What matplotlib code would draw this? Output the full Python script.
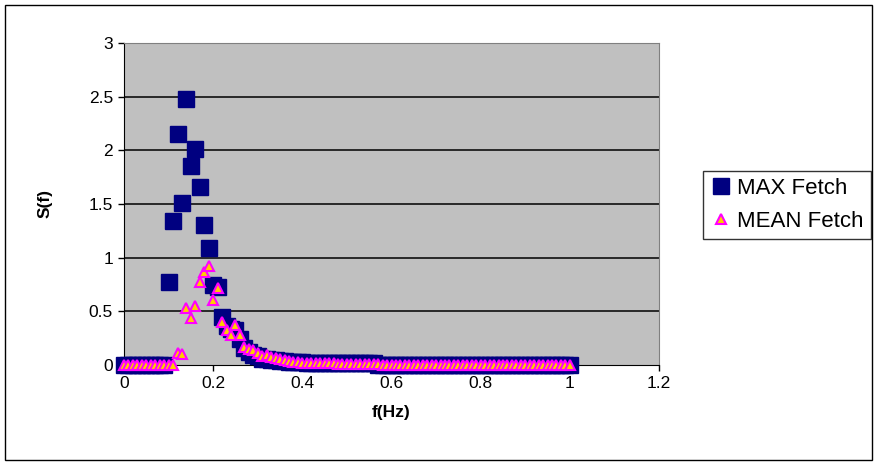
"""
Spectrum S(f) for max and mean fetch, drawn as an Excel-style scatter chart
"""

import numpy as np
import matplotlib
matplotlib.use('Agg')
import matplotlib.pyplot as plt
from matplotlib.patches import Rectangle

# frequency grid (Hz), 0.00 .. 1.00
freq = np.round(np.arange(101) * 0.01, 2)

# spectral density
max_peak = [0, 0, 0, 0, 0, 0, 0, 0, 0, 0,
            0.77, 1.34, 2.15, 1.51, 2.48, 1.85, 2.01, 1.66, 1.30, 1.09,
            0.75, 0.73, 0.45, 0.36, 0.34, 0.33, 0.24, 0.16, 0.12, 0.09,
            0.08, 0.06, 0.055, 0.05, 0.045, 0.04, 0.035, 0.03, 0.03, 0.025,
            0.025, 0.02, 0.02, 0.02, 0.02, 0.02, 0.02, 0.02, 0.015, 0.015,
            0.015, 0.015, 0.015, 0.015, 0.015, 0.015, 0.015]
max_tail = [0.003] * (101 - len(max_peak))
max_fetch = max_peak + max_tail

mean_peak = [0, 0, 0, 0, 0, 0, 0, 0, 0, 0,
             0, 0, 0.11, 0.10, 0.53, 0.44, 0.55, 0.77, 0.87, 0.92,
             0.61, 0.72, 0.40, 0.33, 0.28, 0.37, 0.28, 0.17, 0.15, 0.14,
             0.115, 0.085, 0.09, 0.078, 0.065, 0.056, 0.045, 0.04, 0.03, 0.025,
             0.02, 0.018, 0.018, 0.018, 0.018, 0.018, 0.018, 0.018, 0.012, 0.012,
             0.012, 0.012, 0.012, 0.012, 0.012, 0.012, 0.012, 0.012]
mean_tail = [0.0] * (101 - len(mean_peak))
mean_fetch = mean_peak + mean_tail

x_ticks = [0, 0.2, 0.4, 0.6, 0.8, 1, 1.2]
x_tick_labels = ['0', '0.2', '0.4', '0.6', '0.8', '1', '1.2']
y_ticks = [0, 0.5, 1, 1.5, 2, 2.5, 3]
y_tick_labels = ['0', '0.5', '1', '1.5', '2', '2.5', '3']

plt.rcParams['font.family'] = ['Liberation Sans', 'DejaVu Sans']

W, H = 874, 463
fig = plt.figure(figsize=(W / 100, H / 100), dpi=100)
fig.patch.set_facecolor('white')

# outer chart frame
fig.add_artist(Rectangle((5 / W, 3 / H), 867 / W, 455 / H, transform=fig.transFigure,
                         fill=False, edgecolor='black', linewidth=1.0))

ax = fig.add_axes([124 / W, 1 - 365 / H, (659 - 124) / W, (365 - 43) / H])
ax.set_facecolor('#C0C0C0')

for y in y_ticks[1:]:
    ax.axhline(y, color='black', linewidth=1.1, zorder=1)

ax.plot(freq, max_fetch, linestyle='none', marker='s', markersize=12,
        markerfacecolor='#000080', markeredgecolor='#000080', label='MAX Fetch', zorder=3,
        clip_on=False)
ax.plot(freq, mean_fetch, linestyle='none', marker='^', markersize=7.5,
        markerfacecolor='#FFCC00', markeredgecolor='#FF00FF', markeredgewidth=1.5,
        label='MEAN Fetch', zorder=4, clip_on=False)

ax.set_xlim(0, 1.2)
ax.set_ylim(0, 3)
ax.set_xticks(x_ticks)
ax.set_xticklabels(x_tick_labels)
ax.set_yticks(y_ticks)
ax.set_yticklabels(y_tick_labels)
ax.tick_params(axis='both', direction='out', length=4, width=1, labelsize=12.5,
               colors='black', pad=4)

ax.spines['top'].set_color('#808080')
ax.spines['right'].set_color('#808080')
ax.spines['left'].set_color('black')
ax.spines['bottom'].set_color('black')

ax.set_xlabel('f(Hz)', fontsize=12.5, fontweight='bold', labelpad=10)
ax.set_ylabel('S(f)', fontsize=12.5, fontweight='bold', labelpad=26)

leg = fig.legend(loc='upper left', bbox_to_anchor=(703 / W, 1 - 171 / H),
                 frameon=True, fancybox=False, fontsize=16, handletextpad=0.25,
                 handlelength=1.0, borderpad=0.3, labelspacing=0.55,
                 borderaxespad=0, markerscale=1.0)
leg.get_frame().set_edgecolor('black')
leg.get_frame().set_linewidth(1.0)

fig.savefig('out.png', dpi=100)
